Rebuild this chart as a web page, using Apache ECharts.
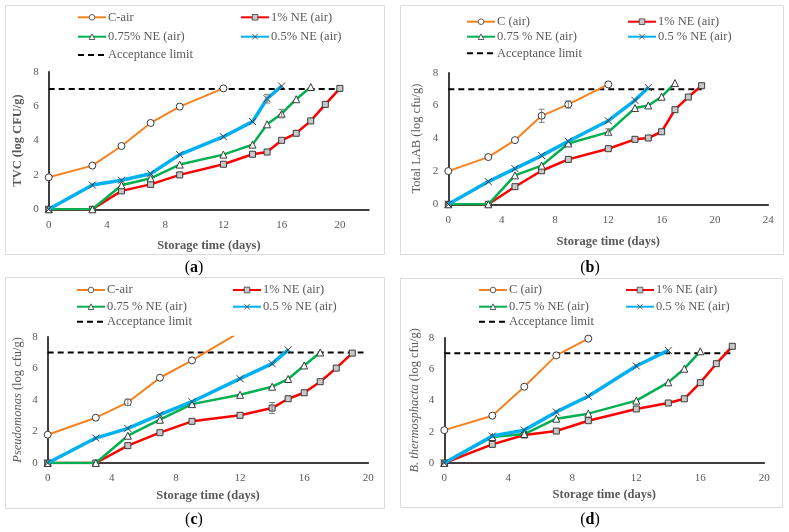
<!DOCTYPE html>
<html><head><meta charset="utf-8">
<script src="https://cdn.jsdelivr.net/npm/echarts@6/dist/echarts.min.js"></script>
<style>html,body{margin:0;padding:0;background:#fff}#c{width:789px;height:532px}</style>
</head><body><div id="c"></div>
<script>
// ---------- DATA ----------
// Panel (a) TVC
const a_C_days = [0, 3, 5, 7, 9, 12];
const a_C_vals = [1.86, 2.54, 3.68, 5.02, 5.97, 7.03];
const a_N1_days = [0, 3, 5, 7, 9, 12, 14, 15, 16, 17, 18, 19, 20];
const a_N1_vals = [0, 0, 1.07, 1.45, 2.0, 2.62, 3.2, 3.33, 4.01, 4.42, 5.14, 6.1, 7.03];
const a_N075_days = [0, 3, 5, 7, 9, 12, 14, 15, 16, 17, 18];
const a_N075_vals = [0, 0, 1.4, 1.8, 2.6, 3.18, 3.76, 4.94, 5.56, 6.4, 7.11];
const a_N05_days = [0, 3, 5, 7, 9, 12, 14, 15, 16];
const a_N05_vals = [0, 1.41, 1.69, 2.07, 3.18, 4.22, 5.1, 6.43, 7.17];
const a_limit_days = [0, 20];
const a_limit_vals = [7, 7];
const a_err = [[15, 6.43, 0.25], [16, 5.56, 0.25]];

// Panel (b) Total LAB
const b_C_days = [0, 3, 5, 7, 9, 12];
const b_C_vals = [2.02, 2.87, 3.9, 5.38, 6.07, 7.29];
const b_N1_days = [0, 3, 5, 7, 9, 12, 14, 15, 16, 17, 18, 19];
const b_N1_vals = [0, 0, 1.07, 2.04, 2.73, 3.38, 3.95, 4.03, 4.41, 5.75, 6.52, 7.21];
const b_N075_days = [0, 3, 5, 7, 9, 12, 14, 15, 16, 17];
const b_N075_vals = [0, 0, 1.76, 2.35, 3.7, 4.39, 5.85, 6.01, 6.54, 7.37];
const b_N05_days = [0, 3, 5, 7, 9, 12, 14, 15];
const b_N05_vals = [0, 1.38, 2.17, 2.96, 3.83, 5.08, 6.32, 7.1];
const b_limit_days = [0, 19];
const b_limit_vals = [7, 7];
const b_err = [[7, 5.38, 0.4], [9, 6.07, 0.22], [12, 4.39, 0.2]];

// Panel (c) Pseudomonas
const c_C_days = [0, 3, 5, 7, 9, 12];
const c_C_vals = [1.79, 2.87, 3.84, 5.4, 6.5, 8.3];
const c_N1_days = [0, 3, 5, 7, 9, 12, 14, 15, 16, 17, 18, 19];
const c_N1_vals = [0, 0, 1.1, 1.92, 2.64, 3.02, 3.48, 4.07, 4.45, 5.15, 6.01, 6.96];
const c_N075_days = [0, 3, 5, 7, 9, 12, 14, 15, 16, 17];
const c_N075_vals = [0, 0, 1.73, 2.74, 3.73, 4.32, 4.83, 5.32, 6.18, 7.0];
const c_N05_days = [0, 3, 5, 7, 9, 12, 14, 15];
const c_N05_vals = [0, 1.58, 2.19, 3.06, 3.88, 5.34, 6.29, 7.17];
const c_limit_days = [0, 19.7];
const c_limit_vals = [7, 7];
const c_err = [[5, 3.84, 0.2], [14, 3.48, 0.35]];

// Panel (d) B. thermosphacta
const d_C_days = [0, 3, 5, 7, 9];
const d_C_vals = [2.1, 3.02, 4.87, 6.87, 7.94];
const d_N1_days = [0, 3, 5, 7, 9, 12, 14, 15, 16, 17, 18];
const d_N1_vals = [0, 1.19, 1.79, 2.04, 2.7, 3.45, 3.83, 4.1, 5.13, 6.34, 7.45];
const d_N075_days = [0, 3, 5, 7, 9, 12, 14, 15, 16];
const d_N075_vals = [0, 1.66, 1.85, 2.83, 3.15, 3.98, 5.15, 6.02, 7.13];
const d_N05_days = [0, 3, 5, 7, 9, 12, 14];
const d_N05_vals = [0, 1.72, 2.1, 3.26, 4.26, 6.19, 7.19];
const d_limit_days = [0, 18];
const d_limit_vals = [7, 7];
const d_err = [];

// Legend / axis texts
const a_names = ['C-air', '1% NE (air)', '0.75% NE (air)', '0.5% NE (air)', 'Acceptance limit'];
const b_names = ['C (air)', '1% NE (air)', '0.75 % NE (air)', '0.5 % NE (air)', 'Acceptance limit'];
const c_names = ['C-air', '1% NE (air)', '0.75 % NE (air)', '0.5 % NE (air)', 'Acceptance limit'];
const d_names = ['C (air)', '1% NE (air)', '0.75 % NE (air)', '0.5 % NE (air)', 'Acceptance limit'];
const xTitle = 'Storage time (days)';
const a_yTitle = 'TVC (log CFU/g)';
const b_yTitle = 'Total LAB (log cfu/g)';
const c_yTitle = '{i|Pseudomonas} (log cfu/g)';
const d_yTitle = '{i|B. thermosphacta} (log cfu/g)';
const panelLabels = ['a', 'b', 'c', 'd'];

// ---------- STYLE / LAYOUT ----------
const FONT = '"Liberation Serif", "DejaVu Serif", serif';
const GREY = '#595959';
const styles = [
  {color: '#F58220', width: 2, symbol: 'circle', size: 7, fill: '#ffffff'},
  {color: '#FF0000', width: 2.5, symbol: 'rect', size: 6, fill: '#c8c8c8'},
  {color: '#00B050', width: 2.5, symbol: 'triangle', size: 7, fill: '#ffffff'},
  {color: '#00B0F0', width: 3.5, symbol: 'path://M0,0L10,10M0,10L10,0', size: 7, fill: 'rgba(0,0,0,0)'}
];

const panels = [
  {grid: {left: 48.7, top: 71.7, width: 320.3, height: 137.6}, xMax: 22, names: a_names, yTitle: a_yTitle, yBold: true,
   series: [[a_C_days, a_C_vals], [a_N1_days, a_N1_vals], [a_N075_days, a_N075_vals], [a_N05_days, a_N05_vals]],
   limit: [a_limit_days, a_limit_vals], err: a_err,
   legRows: [17.3, 36.7, 55], legCols: [77, 240], yGap: 24, xGap: 30,
   box: [5, 5, 379, 249], label: [194, 268]},
  {grid: {left: 448.3, top: 72.7, width: 320, height: 131.6}, xMax: 24, names: b_names, yTitle: b_yTitle, yBold: false,
   series: [[b_C_days, b_C_vals], [b_N1_days, b_N1_vals], [b_N075_days, b_N075_vals], [b_N05_days, b_N05_vals]],
   limit: [b_limit_days, b_limit_vals], err: b_err,
   legRows: [21.7, 36.7, 53.3], legCols: [466, 627], yGap: 25, xGap: 31,
   box: [400, 5, 383, 249], label: [590, 268]},
  {grid: {left: 47.7, top: 336.7, width: 320.6, height: 126.3}, xMax: 20, names: c_names, yTitle: c_yTitle, yBold: false,
   series: [[c_C_days, c_C_vals], [c_N1_days, c_N1_vals], [c_N075_days, c_N075_vals], [c_N05_days, c_N05_vals]],
   limit: [c_limit_days, c_limit_vals], err: c_err,
   legRows: [290, 306.7, 321.7], legCols: [76, 232], yGap: 23, xGap: 26,
   box: [5, 277, 379, 231], label: [194, 520]},
  {grid: {left: 444.3, top: 337.7, width: 320, height: 125.3}, xMax: 20, names: d_names, yTitle: d_yTitle, yBold: false,
   series: [[d_C_days, d_C_vals], [d_N1_days, d_N1_vals], [d_N075_days, d_N075_vals], [d_N05_days, d_N05_vals]],
   limit: [d_limit_days, d_limit_vals], err: d_err,
   legRows: [290, 306.7, 321.7], legCols: [478, 625], yGap: 23, xGap: 25,
   box: [400, 278, 382, 229], label: [590, 520]}
];

const option = {
  animation: false,
  backgroundColor: '#fff',
  textStyle: {fontFamily: FONT},
  grid: [], xAxis: [], yAxis: [], series: [], legend: [], graphic: []
};

// legend slot for each name index: [col, row]
const slots = [[0, 0], [1, 0], [0, 1], [1, 1], [0, 2]];

panels.forEach((p, i) => {
  option.grid.push(Object.assign({containLabel: false}, p.grid));
  option.xAxis.push({
    type: 'value', gridIndex: i, min: 0, max: p.xMax, interval: 4,
    name: xTitle, nameLocation: 'middle', nameGap: p.xGap,
    nameTextStyle: {fontFamily: FONT, fontSize: 12.5, fontWeight: 'bold', color: GREY},
    axisLine: {show: true, onZero: false, lineStyle: {color: '#000', width: 1.5}},
    axisTick: {show: false}, splitLine: {show: false},
    axisLabel: {fontFamily: FONT, fontSize: 11, color: GREY, margin: 10, showMaxLabel: p.xMax % 4 === 0}
  });
  option.yAxis.push({
    type: 'value', gridIndex: i, min: 0, max: 8, interval: 2,
    name: p.yTitle, nameLocation: 'middle', nameGap: p.yGap,
    nameTextStyle: {fontFamily: FONT, fontSize: 12.5, fontWeight: p.yBold ? 'bold' : 'normal', color: GREY,
      rich: {i: {fontFamily: FONT, fontSize: 12.5, fontStyle: 'italic', color: GREY}}},
    axisLine: {show: true, lineStyle: {color: '#000', width: 1.5}},
    axisTick: {show: false}, splitLine: {show: false},
    axisLabel: {fontFamily: FONT, fontSize: 11, color: GREY, margin: 10}
  });
  // acceptance limit
  option.series.push({
    type: 'line', name: p.names[4], xAxisIndex: i, yAxisIndex: i,
    data: p.limit[0].map((d, k) => [d, p.limit[1][k]]),
    symbol: 'none', z: 1,
    lineStyle: {color: '#000', width: 2, type: [6, 4]},
    itemStyle: {color: '#000', opacity: 0}
  });
  p.series.forEach((s, k) => {
    const st = styles[k];
    option.series.push({
      type: 'line', name: p.names[k], xAxisIndex: i, yAxisIndex: i,
      data: s[0].map((d, j) => [d, s[1][j]]),
      symbol: st.symbol, symbolSize: st.size, showAllSymbol: true, clip: true, z: 2 + k,
      lineStyle: {color: st.color, width: st.width},
      itemStyle: {color: st.fill, borderColor: '#3a3a3a', borderWidth: 1},
      emphasis: {disabled: true}
    });
  });
  if (p.err.length) {
    option.series.push({
      type: 'custom', xAxisIndex: i, yAxisIndex: i, z: 10, data: p.err,
      renderItem: (params, api) => {
        const x = api.value(0), y = api.value(1), e = api.value(2);
        const t = api.coord([x, y + e]), b = api.coord([x, y - e]);
        const w = 3, st = {stroke: '#7f7f7f', lineWidth: 1};
        return {type: 'group', children: [
          {type: 'line', shape: {x1: t[0], y1: t[1], x2: b[0], y2: b[1]}, style: st},
          {type: 'line', shape: {x1: t[0] - w, y1: t[1], x2: t[0] + w, y2: t[1]}, style: st},
          {type: 'line', shape: {x1: b[0] - w, y1: b[1], x2: b[0] + w, y2: b[1]}, style: st}
        ]};
      }
    });
  }
  // legends
  p.names.forEach((nm, k) => {
    const sl = slots[k];
    option.legend.push({
      data: [nm], orient: 'horizontal', selectedMode: false,
      left: p.legCols[sl[0]], top: p.legRows[sl[1]] - 6.5,
      itemWidth: 28, itemHeight: 7, padding: 0, itemGap: 0,
      itemStyle: {borderWidth: 0.8},
      textStyle: {fontFamily: FONT, fontSize: 12.5, color: GREY, padding: [0, 0, 0, -3]}
    });
  });
  // border box
  option.graphic.push({
    type: 'rect', silent: true, z: -1,
    shape: {x: p.box[0] + 0.5, y: p.box[1] + 0.5, width: p.box[2], height: p.box[3]},
    style: {fill: 'none', stroke: '#dcdcdc', lineWidth: 1}
  });
  option.graphic.push({
    type: 'text', silent: true, x: p.label[0], y: p.label[1],
    style: {text: '({b|' + panelLabels[i] + '})', textAlign: 'center', textVerticalAlign: 'middle',
      font: '16px ' + FONT, fill: '#000',
      rich: {b: {fontFamily: FONT, fontSize: 16, fontWeight: 'bold', fill: '#000'}}}
  });
});

const chart = echarts.init(document.getElementById('c'), null, {renderer: 'canvas'});
chart.setOption(option);
</script>
</body></html>
